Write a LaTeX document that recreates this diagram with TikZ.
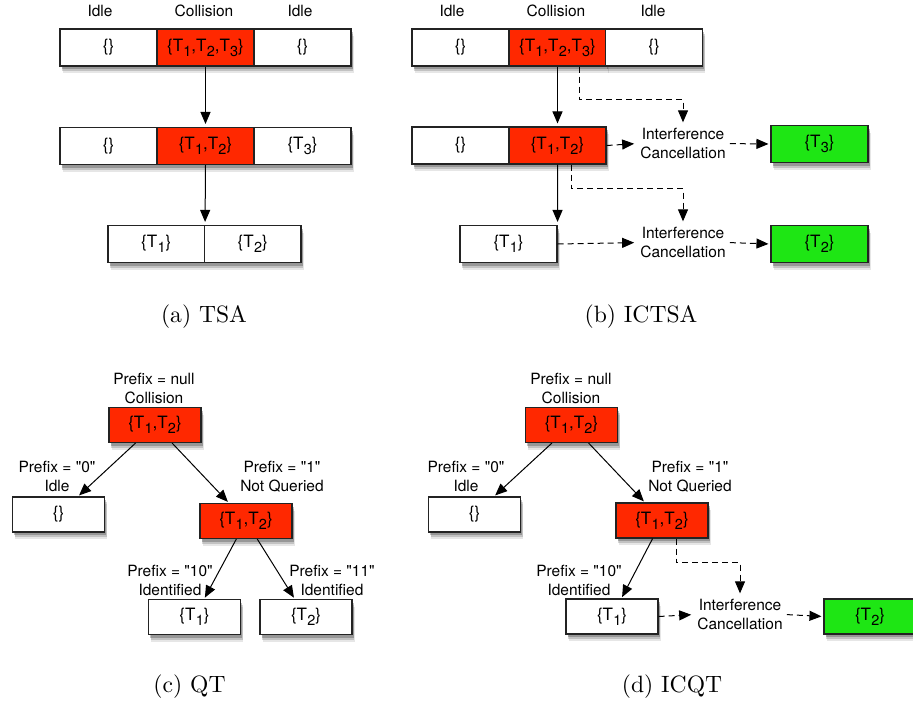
\documentclass[tikz,border=0pt]{standalone}
\usepackage{fontspec}
\newfontfamily\hv{TeX Gyre Heros}
\font\capfont="[lmroman10-regular.otf]" at 23.6pt
\usetikzlibrary{arrows.meta,shadows}
\definecolor{cred}{RGB}{255,40,0}
\definecolor{cgreen}{RGB}{30,230,20}
\definecolor{cborder}{RGB}{35,35,35}
\newcommand\Tn[1]{T\kern0.2pt\raisebox{-0.3em}{\fontsize{14.5}{14.5}\selectfont #1}}
\begin{document}
\begin{tikzpicture}[x=1pt,y=-1pt,
  softshadow/.style={drop shadow={shadow xshift=2.5pt, shadow yshift=-7pt, opacity=0.12, fill=black!80},
                     drop shadow={shadow xshift=2pt, shadow yshift=-5pt, opacity=0.2, fill=black!80},
                     drop shadow={shadow xshift=1.5pt, shadow yshift=-3pt, opacity=0.3, fill=black!80}},
  cell/.style={draw=cborder, line width=1.1pt, inner sep=0pt, minimum width=97pt, minimum height=37pt,
               font=\hv\fontsize{17}{17}\selectfont, fill=white, softshadow},
  tbox/.style={cell, minimum width=92pt, minimum height=35pt},
  redc/.style={fill=cred},
  greenc/.style={fill=cgreen},
  lab/.style={font=\hv\fontsize{15.5}{18.5}\selectfont, align=center, inner sep=0pt},
  icl/.style={lab, inner sep=4pt},
  captext/.style={font=\capfont, anchor=base, inner sep=0pt},
  arr/.style={-{Triangle[length=12pt,width=10pt]}, line width=1pt, draw=black, shorten >=3pt},
  tarr/.style={arr, shorten >=1.5pt},
  dsh/.style={arr, dash pattern=on 6pt off 4pt, shorten >=2pt}
]
\useasboundingbox (0,0) rectangle (913,702);

% ---------------- (a) TSA ----------------
\node[lab] (aL1) at (100,10.5) {Idle};
\node[lab] (aL2) at (204,10.5) {Collision};
\node[lab] (aL3) at (300,10.5) {Idle};
\node[cell] (a11) at (108.5,47.5) {\{\}};
\node[cell,redc] (a12) at (205.5,47.5) {\{\Tn1,\Tn2,\Tn3\}};
\node[cell] (a13) at (302.5,47.5) {\{\}};
\node[cell] (a21) at (108.5,146) {\{\}};
\node[cell,redc] (a22) at (205.5,146) {\{\Tn1,\Tn2\}};
\node[cell] (a23) at (302.5,146) {\{\Tn3\}};
\node[cell,minimum width=96.5pt] (a31) at (156.25,244) {\{\Tn1\}};
\node[cell,minimum width=96.5pt] (a32) at (252.75,244) {\{\Tn2\}};
\draw[arr] (a12.south) -- (a22.north);
\draw[arr] (a22.south) -- (a31.north east);
\node[captext] (capa) at (204,322) {(a) TSA};

% ---------------- (b) ICTSA ----------------
\node[lab] (bL1) at (452,10.5) {Idle};
\node[lab] (bL2) at (556,10.5) {Collision};
\node[lab] (bL3) at (653,10.5) {Idle};
\node[cell] (b11) at (460.5,47.5) {\{\}};
\node[cell,redc] (b12) at (557.5,47.5) {\{\Tn1,\Tn2,\Tn3\}};
\node[cell] (b13) at (654,47.5) {\{\}};
\node[cell] (b21) at (460.5,145.5) {\{\}};
\node[cell,redc] (b22) at (557.5,145.5) {\{\Tn1,\Tn2\}};
\node[cell] (b31) at (508.5,244) {\{\Tn1\}};
\node[icl] (ic1) at (683,143.6) {Interference\\Cancellation};
\node[icl] (ic2) at (683,242.6) {Interference\\Cancellation};
\node[cell,greenc] (g1) at (819.5,144) {\{\Tn3\}};
\node[cell,greenc] (g2) at (819.5,244) {\{\Tn2\}};
\draw[arr] (b12.south) -- (b22.north);
\draw[arr] (b22.south) -- (b31.north east);
\draw[dsh] ([xshift=21.5pt]b12.south) -- ++(0,33) -| (ic1.north);
\draw[dsh] (b22.east) -- (ic1.west);
\draw[dsh] (ic1.east) -- (g1.west);
\draw[dsh] ([xshift=13.5pt]b22.south) -- ++(0,24) -| (ic2.north);
\draw[dsh] (b31.east) -- (ic2.west);
\draw[dsh] (ic2.east) -- (g2.west);
\node[captext] (capb) at (641,322) {(b) ICTSA};

% ---------------- (c) QT ----------------
\node[lab] (cP0) at (154,388.6) {Prefix = null\\Collision};
\node[tbox,redc] (c0) at (155,425) {\{\Tn1,\Tn2\}};
\node[lab] (cP1) at (57,476.6) {Prefix = "0"\\Idle};
\node[tbox] (c1) at (58.5,514.5) {\{\}};
\node[lab] (cP2) at (282,476.6) {Prefix = "1"\\Not Queried};
\node[tbox,redc] (c2) at (246,521) {\{\Tn1,\Tn2\}};
\node[lab] (cP3) at (170,580.6) {Prefix = "10"\\Identified};
\node[tbox] (c3) at (194.5,617) {\{\Tn1\}};
\node[lab] (cP4) at (332,580.6) {Prefix = "11"\\Identified};
\node[tbox] (c4) at (306,617) {\{\Tn2\}};
\draw[tarr] (c0) -- (c1);
\draw[tarr] (c0) -- (c2);
\draw[tarr] (c2) -- (c3);
\draw[tarr] (c2) -- (c4);
\node[captext] (capc) at (189.5,692) {(c) QT};

% ---------------- (d) ICQT ----------------
\node[lab] (dP0) at (571,388.6) {Prefix = null\\Collision};
\node[tbox,redc] (d0) at (571.5,425) {\{\Tn1,\Tn2\}};
\node[lab] (dP1) at (466,476.6) {Prefix = "0"\\Idle};
\node[tbox] (d1) at (474.5,514.5) {\{\}};
\node[lab] (dP2) at (690,476.6) {Prefix = "1"\\Not Queried};
\node[tbox,redc] (d2) at (662,520.5) {\{\Tn1,\Tn2\}};
\node[lab] (dP3) at (579,580.6) {Prefix = "10"\\Identified};
\node[tbox] (d3) at (612,616.5) {\{\Tn1\}};
\node[icl] (ic3) at (740,614.6) {Interference\\Cancellation};
\node[tbox,greenc] (g3) at (870,616.5) {\{\Tn2\}};
\draw[tarr] (d0) -- (d1);
\draw[tarr] (d0) -- (d2);
\draw[tarr] (d2) -- (d3);
\draw[dsh] ([xshift=14pt]d2.south) -- ++(0,24) -| (ic3.north);
\draw[dsh] (d3.east) -- (ic3.west);
\draw[dsh] (ic3.east) -- (g3.west);
\node[captext] (capd) at (672,692) {(d) ICQT};
\end{tikzpicture}
\end{document}
